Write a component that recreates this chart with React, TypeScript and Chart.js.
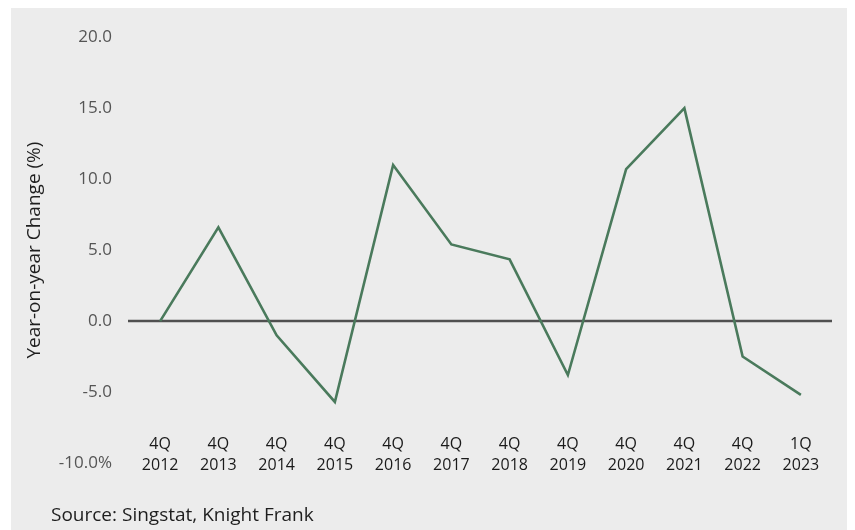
import React, { useEffect, useRef } from "react";
import { Chart, registerables } from "chart.js";

Chart.register(...registerables);

// Year-on-year change, quarter / year label parts
const quarters = ["4Q", "4Q", "4Q", "4Q", "4Q", "4Q", "4Q", "4Q", "4Q", "4Q", "4Q", "1Q"];
const years = ["2012", "2013", "2014", "2015", "2016", "2017", "2018", "2019", "2020", "2021", "2022", "2023"];
const yoyChange = [0, 6.6, -1.0, -5.7, 11.0, 5.4, 4.35, -3.8, 10.7, 15.0, -2.5, -5.2];

const yMin = -10;
const yMax = 20;
const yStep = 5;

const FONT = "'Open Sans', 'Noto Sans', sans-serif";

// Solid baseline at zero, a little wider than the plotting area
const zeroLine = {
  id: "zeroLine",
  beforeDatasetsDraw(chart: any) {
    const { ctx, chartArea, scales } = chart;
    const y = scales.y.getPixelForValue(0);
    ctx.save();
    ctx.strokeStyle = "#505050";
    ctx.lineWidth = 2.5;
    ctx.beginPath();
    ctx.moveTo(chartArea.left - 3, y);
    ctx.lineTo(chartArea.right + 2, y);
    ctx.stroke();
    ctx.restore();
  },
};

export default function App() {
  const canvasRef = useRef<HTMLCanvasElement | null>(null);

  useEffect(() => {
    if (!canvasRef.current) return;
    const labels = quarters.map((q, i) => [q, years[i]]);
    const chart = new Chart(canvasRef.current, {
      type: "line",
      data: {
        labels,
        datasets: [
          {
            data: yoyChange,
            borderColor: "#4a7a5c",
            borderWidth: 2.6,
            pointRadius: 0,
            tension: 0,
            fill: false,
          },
        ],
      },
      options: {
        animation: false,
        responsive: true,
        maintainAspectRatio: false,
        layout: { padding: { left: 0, right: 25, top: 27, bottom: 51 } },
        plugins: {
          legend: { display: false },
          tooltip: { enabled: false },
        },
        scales: {
          x: {
            offset: true,
            border: { display: false },
            grid: { display: false, drawTicks: false },
            ticks: {
              // category labels sit just above the bottom edge of the plot
              mirror: true,
              color: "#1a1a1a",
              padding: 8,
              maxRotation: 0,
              autoSkip: false,
              font: { family: FONT, size: 16, lineHeight: 1.3 },
            },
          },
          y: {
            min: yMin,
            max: yMax,
            border: { display: false },
            grid: { display: false, drawTicks: false },
            afterFit(scale: any) {
              scale.width = 120;
            },
            ticks: {
              stepSize: yStep,
              color: "#555555",
              padding: 19,
              font: { family: FONT, size: 17 },
              callback: (v: any) => (Number(v) === yMin ? `${Number(v).toFixed(1)}%` : Number(v).toFixed(1)),
            },
            title: {
              display: true,
              text: "Year-on-year Change (%)",
              color: "#1e1e1e",
              padding: { top: 12, bottom: 0 },
              font: { family: FONT, size: 19 },
            },
          },
        },
      },
      plugins: [zeroLine],
    });
    return () => chart.destroy();
  }, []);

  return (
    <div
      style={{
        position: "relative",
        marginLeft: 3,
        width: 844,
        height: 522,
        background: "#ececec",
      }}
    >
      <canvas ref={canvasRef} />
      <div
        style={{
          position: "absolute",
          left: 40,
          top: 496,
          fontFamily: FONT,
          fontSize: 19,
          lineHeight: "20px",
          color: "#1e1e1e",
          whiteSpace: "nowrap",
        }}
      >
        Source: Singstat, Knight Frank
      </div>
    </div>
  );
}
